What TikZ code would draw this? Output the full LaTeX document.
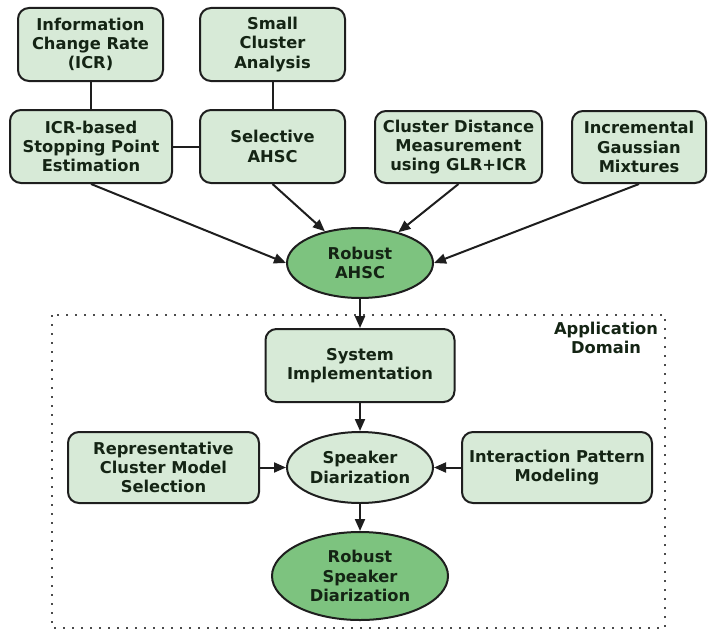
\documentclass[tikz,border=0pt]{standalone}
\usepackage{fontspec}
\setmainfont{DejaVu Sans}
\usetikzlibrary{shapes.geometric,arrows.meta}
\definecolor{boxfill}{HTML}{D7EAD7}
\definecolor{darkfill}{HTML}{7DC37F}
\definecolor{txt}{HTML}{142414}
\definecolor{edge}{HTML}{1E1E1E}
\tikzset{
  base/.style={draw=edge, line width=2pt, text=txt, align=center,
    font=\fontsize{16.3}{19.3}\selectfont\bfseries, inner sep=0pt},
  rbox/.style={base, rectangle, rounded corners=11pt, fill=boxfill},
  lell/.style={base, ellipse, fill=boxfill},
  dell/.style={base, ellipse, fill=darkfill},
  conn/.style={draw=edge, line width=2pt},
  arr/.style={conn, -{Triangle[length=12pt,width=10pt]}},
  appframe/.style={draw=edge!80, line width=1.8pt, dash pattern=on 1.8pt off 7.2pt}
}
\begin{document}
\begin{tikzpicture}[x=1pt,y=-1pt]
\useasboundingbox (0,0) rectangle (708,634);
\draw[appframe] (52,315) rectangle (665,628);
\node[base, draw=none, fill=none] (appdom) at (606,338) {Application\\Domain};

\node[rbox, minimum width=145pt, minimum height=73pt] (info) at (90.5,44.5) {Information\\Change Rate\\(ICR)};
\node[rbox, minimum width=145pt, minimum height=73pt] (small) at (272.5,44.5) {Small\\Cluster\\Analysis};
\node[rbox, minimum width=162pt, minimum height=73pt] (icr) at (91,146.5) {ICR-based\\Stopping Point\\Estimation};
\node[rbox, minimum width=145pt, minimum height=73pt] (sel) at (272.5,146.5) {Selective\\AHSC};
\node[rbox, minimum width=167pt, minimum height=72pt] (cdm) at (458.5,147) {Cluster Distance\\Measurement\\using GLR+ICR};
\node[rbox, minimum width=134pt, minimum height=72pt] (igm) at (639,147) {Incremental\\Gaussian\\Mixtures};
\node[dell, minimum width=146pt, minimum height=70pt] (rahsc) at (360,263) {Robust\\AHSC};

\node[rbox, minimum width=189pt, minimum height=73pt] (sys) at (360,365.5) {System\\Implementation};
\node[rbox, minimum width=191pt, minimum height=71pt] (rep) at (163.5,467.5) {Representative\\Cluster Model\\Selection};
\node[rbox, minimum width=190pt, minimum height=71pt] (ipm) at (557,467.5) {Interaction Pattern\\Modeling};
\node[lell, minimum width=146pt, minimum height=71pt] (sd) at (360,467.5) {Speaker\\Diarization};
\node[dell, minimum width=176pt, minimum height=88pt] (rsd) at (360,576) {Robust\\Speaker\\Diarization};

\draw[conn] (info.south) -- (info.south |- icr.north);
\draw[conn] (small.south) -- (small.south |- sel.north);
\draw[conn] (icr.east) -- (sel.west);

\draw[arr] (icr.south) -- (rahsc.west);
\draw[arr] (sel.south) -- (rahsc);
\draw[arr] (cdm.south) -- (rahsc);
\draw[arr] (igm.south) -- (rahsc.east);

\draw[arr] (rahsc) -- (sys);
\draw[arr] (sys) -- (sd);
\draw[arr] (rep.east) -- (sd.west);
\draw[arr] (ipm.west) -- (sd.east);
\draw[arr] (sd) -- (rsd);
\end{tikzpicture}
\end{document}
